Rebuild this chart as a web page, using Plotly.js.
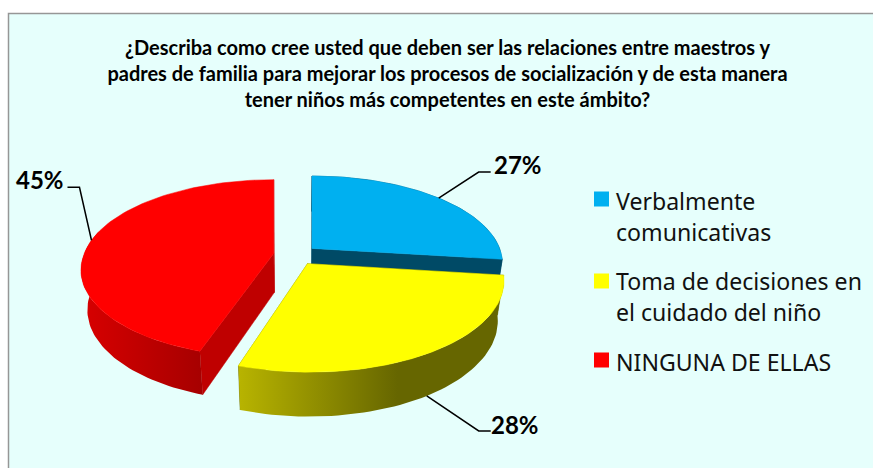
<!DOCTYPE html>
<html><head><meta charset="utf-8">
<script src="https://cdn.plot.ly/plotly-3.0.1.min.js"></script>
<style>html,body{margin:0;padding:0;background:#fff}#c{width:873px;height:468px}</style></head>
<body><div id="c"></div>
<script>
// ---- data ----
const categories = ['Verbalmente<br>comunicativas', 'Toma de decisiones en<br>el cuidado del niño', 'NINGUNA DE ELLAS'];
const percents = [27, 28, 45];
const topColors = ['#00B0F0', '#FFFF00', '#FF0000'];
const innerColors = ['#004A66', '#6B6B00', '#BF0000'];
const titleText = '¿Describa como cree usted que deben ser las relaciones entre maestros y<br>padres de familia para mejorar los procesos de socialización y de esta manera<br>tener niños más competentes en este ámbito?';

// ---- projection of the tilted, exploded disc (axis units equal page pixels) ----
const CX = 295.5, CY = 255, RX = 190, RY = 86.8, K = 0.17, H = 39, SHRINK = 0.97, EXPLODE = 0.116;
const rad = d => d * Math.PI / 180;
function project(slice, r, th, lower) {
  const ex = EXPLODE * Math.sin(rad(slice.mid));
  const xn = r * Math.sin(rad(th));
  const zn = EXPLODE * Math.cos(rad(slice.mid)) + r * Math.cos(rad(th));
  const s = 1 / (1 + K * zn);
  const es = zn < 0 ? s : 1;
  const f = lower ? SHRINK : 1;
  return [CX + f * RX * (xn * s + ex * es), CY - f * RY * zn * s + (lower ? H * s : 0)];
}
const total = percents.reduce((a, b) => a + b, 0);
let run = 0;
const slices = percents.map((v, i) => {
  const a0 = run / total * 360; run += v; const a1 = run / total * 360;
  return { i, a0, a1, mid: (a0 + a1) / 2 };
});

const traces = [];
function poly(pts, color, gradient) {
  const t = { type: 'scatter', mode: 'lines', x: pts.map(p => p[0]).concat(pts[0][0]), y: pts.map(p => p[1]).concat(pts[0][1]),
    fill: 'toself', line: { width: 0 }, hoverinfo: 'skip', showlegend: false };
  if (gradient) { t.fillgradient = { type: 'horizontal', colorscale: gradient }; t.fillcolor = color; }
  else { t.fillcolor = color; t.line = { color: color, width: 0.5 }; }
  traces.push(t);
}
// outer wall shading, left to right across the visible part of each slice wall
const wallShade = [
  null,
  [[0, '#B8B400'], [0.6, '#666600'], [1, '#666600']],
  [[0, '#D80000'], [1, '#A60000']]
];
const wallRange = [[0, 97.2], [97.2, 198], [198, 285]];
function drawSlice(s) {
  const { i, a0, a1 } = s;
  [a0, a1].forEach(a => {
    poly([project(s, 0, a, false), project(s, 1, a, false), project(s, 1, a, true), project(s, 0, a, true)], innerColors[i]);
  });
  const [w0, w1] = wallRange[i], up = [], low = [];
  for (let k = 0; k <= 60; k++) {
    const t = w0 + (w1 - w0) * k / 60;
    up.push(project(s, 1, t, false)); low.unshift(project(s, 1, t, true));
  }
  poly(up.concat(low), innerColors[i], wallShade[i]);
  const pts = [project(s, 0, a0, false)];
  for (let k = 0; k <= 90; k++) pts.push(project(s, 1, a0 + (a1 - a0) * k / 90, false));
  poly(pts, topColors[i]);
}
[0, 2, 1].forEach(i => drawSlice(slices[i]));

// leader lines and percent labels
const leaderAnchor = [project(slices[0], 1, slices[0].mid, false), project(slices[1], 1, slices[1].mid, true), project(slices[2], 1, slices[2].mid, false)];
const elbowOffset = [[40, -26], [52, 35], [-12, -53]];
const tailLen = [12, 12, -12];
const labelX = [518, 515, 40];
const labelY = [164, 424, 179];
const annotations = [];
const shapes = [{ type: 'rect', xref: 'x', yref: 'y', x0: 8.5, y0: 13.5, x1: 880, y1: 480, fillcolor: '#E6FFFC', line: { color: '#969696', width: 1.5 }, layer: 'below' }];
leaderAnchor.forEach((p, i) => {
  const e = [p[0] + elbowOffset[i][0], p[1] + elbowOffset[i][1]];
  const t = [e[0] + tailLen[i], e[1]];
  traces.push({ type: 'scatter', mode: 'lines', x: [p[0], e[0], t[0]], y: [p[1], e[1], t[1]], line: { color: '#000', width: 1.5 }, hoverinfo: 'skip', showlegend: false });
  annotations.push({ xref: 'x', yref: 'y', x: labelX[i], y: labelY[i], xanchor: 'center', yanchor: 'middle', showarrow: false,
    text: '<b>' + percents[i] + '%</b>', font: { family: 'Lato, sans-serif', size: 24, color: '#000', weight: 900 } });
});

// legend: swatches drawn as markers, one per category, with their names
const legendSwatchX = 601.5, legendTextX = 614;
const legendSwatchY = [199, 281, 360];
const legendTextY = [216.5, 296.5, 362];
traces.push({ type: 'scatter', mode: 'markers', x: categories.map(() => legendSwatchX), y: legendSwatchY, hoverinfo: 'skip', showlegend: false,
  marker: { symbol: 'square', size: 15, color: topColors, line: { width: 0 } } });
categories.forEach((name, i) => annotations.push({ xref: 'x', yref: 'y', x: legendTextX, y: legendTextY[i], xanchor: 'left', yanchor: 'middle', align: 'left', showarrow: false,
  text: name.split('<br>').map(l => '<span style="font-size:23.1px">' + l + '</span>').join('<br>'),
  font: { family: 'Noto Sans, sans-serif', size: 24, color: '#111' } }));

Plotly.newPlot('c', traces, {
  width: 873, height: 468, margin: { l: 0, r: 0, t: 0, b: 0 }, paper_bgcolor: '#fff', plot_bgcolor: '#fff',
  title: { text: titleText,
    font: { family: 'Lato, sans-serif', size: 20, color: '#000', weight: 700 }, x: 0.5126, xanchor: 'center', y: 0.883, yanchor: 'middle' },
  xaxis: { range: [0, 873], visible: false, fixedrange: true },
  yaxis: { range: [468, 0], visible: false, fixedrange: true },
  showlegend: false,
  shapes, annotations
}, { staticPlot: true, displayModeBar: false });
</script></body></html>
